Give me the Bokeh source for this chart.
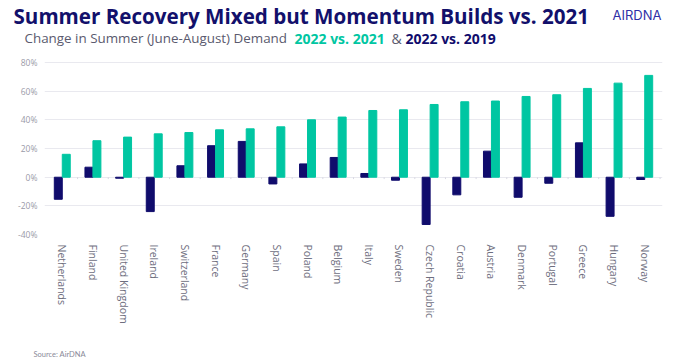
from bokeh.plotting import figure
from bokeh.models import ColumnDataSource, FactorRange, Range1d, Label, FixedTicker, CustomJSTickFormatter
from bokeh.layouts import column
from bokeh.transform import dodge
from bokeh.embed import file_html
from bokeh.resources import INLINE

countries = ["Netherlands", "Finland", "United Kingdom", "Ireland", "Switzerland", "France",
             "Germany", "Spain", "Poland", "Belgium", "Italy", "Sweden", "Czech Republic",
             "Croatia", "Austria", "Denmark", "Portugal", "Greece", "Hungary", "Norway"]
vs_2021 = [16, 25.5, 28, 30.3, 31.2, 33.1, 33.8, 35.2, 40.1, 42, 46.6, 47.1, 50.8, 52.7,
           53.2, 56.4, 57.6, 62, 65.7, 71.1]
vs_2019 = [-15.4, 7, -0.7, -24, 8, 22, 25, -4.7, 9.3, 13.8, 2.6, -2.1, -33, -12.3,
           18.2, -14, -4.2, 24, -27.3, -1.6]
y_ticks = [-40, -20, 0, 20, 40, 60, 80]

NAVY = "#100c6c"
GREEN = "#00c6a2"
W = 692


def blank(height):
    f = figure(width=W, height=height, x_range=Range1d(0, W), y_range=Range1d(0, height),
               x_axis_type=None, y_axis_type=None,
               output_backend="svg", toolbar_location=None, min_border=0)
    f.grid.visible = False
    f.outline_line_color = None
    f.frame_align = False
    return f


# header
head = blank(48)
for lab in [
    Label(x=13, y=33, x_units="screen", y_units="screen",
          text="Summer Recovery Mixed but Momentum Builds vs. 2021",
          text_font="Open Sans", text_font_style="bold", text_font_size="20.6px",
          text_color="#12106b", text_baseline="alphabetic"),
    Label(x=24, y=10.5, x_units="screen", y_units="screen",
          text="Change in Summer (June-August) Demand", text_font="Open Sans",
          text_font_size="13.4px", text_color="#5a5a6e", text_baseline="alphabetic"),
    Label(x=294, y=10.5, x_units="screen", y_units="screen", text="2022 vs. 2021",
          text_font="Open Sans", text_font_style="bold", text_font_size="14px",
          text_color=GREEN, text_baseline="alphabetic"),
    Label(x=391, y=10.5, x_units="screen", y_units="screen", text="&", text_font="Open Sans",
          text_font_size="14px", text_color="#5a5a6e", text_baseline="alphabetic"),
    Label(x=405, y=10.5, x_units="screen", y_units="screen", text="2022 vs. 2019",
          text_font="Open Sans", text_font_style="bold", text_font_size="14px",
          text_color=NAVY, text_baseline="alphabetic"),
    Label(x=612, y=34, x_units="screen", y_units="screen", text="AIRDNA",
          text_font="Inter", text_font_size="13px", text_color="#2f2fa6",
          text_baseline="alphabetic"),
]:
    head.add_layout(lab)

# main chart
src = ColumnDataSource(dict(c=countries, a=vs_2021, b=vs_2019, z=[0] * len(countries),
                            t=[-1.3] * len(countries)))

p = figure(width=W, height=292, x_range=FactorRange(*countries, range_padding=0.008),
           y_range=Range1d(-40, 85), output_backend="svg", toolbar_location=None,
           min_border_left=44, min_border_right=30, min_border_top=7, min_border_bottom=106)
p.outline_line_color = None

p.vbar(x=dodge("c", -0.13, range=p.x_range), top="b", bottom=0, width=0.26, source=src,
       fill_color=NAVY, line_color=NAVY)
p.vbar(x=dodge("c", 0.13, range=p.x_range), top="a", bottom=0, width=0.26, source=src,
       fill_color=GREEN, line_color=GREEN)
p.segment(x0=dodge("c", 0.5, range=p.x_range), y0="z", x1=dodge("c", 0.5, range=p.x_range),
          y1="t", source=src, line_color="#d8d8e2", line_width=1)

p.xgrid.grid_line_color = None
p.ygrid.grid_line_color = "#e9e9ef"
p.ygrid.ticker = FixedTicker(ticks=y_ticks)

p.yaxis.ticker = FixedTicker(ticks=y_ticks)
p.yaxis.formatter = CustomJSTickFormatter(code="return tick + '%'")
p.yaxis.axis_line_color = None
p.yaxis.major_tick_line_color = None
p.yaxis.minor_tick_line_color = None
p.yaxis.major_label_text_color = "#9a9aa8"
p.yaxis.major_label_text_font = "Open Sans"
p.yaxis.major_label_text_font_size = "8.5px"
p.yaxis.major_label_standoff = 1

p.xaxis.axis_line_color = None
p.xaxis.major_tick_line_color = None
p.xaxis.minor_tick_line_color = None
p.xaxis.major_label_orientation = "vertical"
p.xaxis.major_label_text_color = "#6e6e7e"
p.xaxis.major_label_text_font = "Open Sans"
p.xaxis.major_label_text_font_size = "10.5px"
p.xaxis.major_label_standoff = 4

# footer
foot = blank(18)
foot.add_layout(Label(x=33, y=4, x_units="screen", y_units="screen", text="Source: AirDNA",
                      text_font="Lato", text_font_size="7.5px", text_color="#8a8a99",
                      text_baseline="alphabetic"))

layout = column(head, p, foot, spacing=0)
open("out.html", "w").write(file_html(layout, INLINE))
